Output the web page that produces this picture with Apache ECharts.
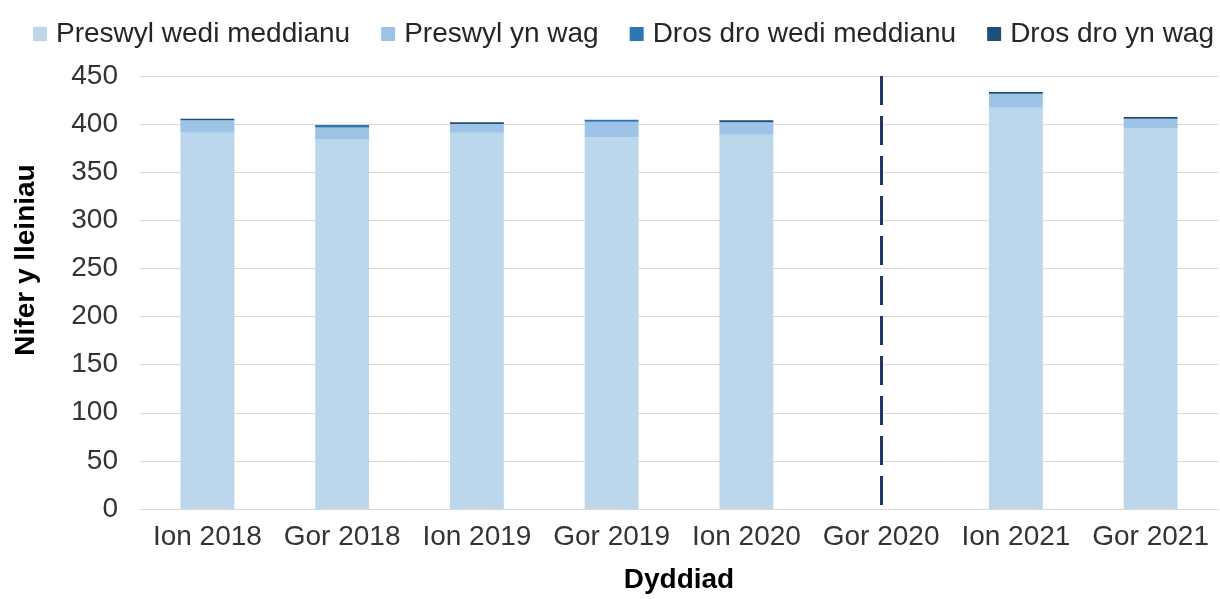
<!DOCTYPE html>
<html>
<head>
<meta charset="utf-8">
<script src="https://cdn.jsdelivr.net/npm/echarts@6/dist/echarts.min.js"></script>
<style>
  html, body { margin: 0; padding: 0; background: #fff; }
  #chart { width: 1220px; height: 599px; }
</style>
</head>
<body>
<div id="chart"></div>
<script>
// dyddiadau (categori)
var categories = ["Ion 2018", "Gor 2018", "Ion 2019", "Gor 2019", "Ion 2020", "Gor 2020", "Ion 2021", "Gor 2021"];
// gwerthoedd wedi'u darllen o'r siart
var preswylWedi = [391, 384, 391, 386, 389, null, 417, 396];
var preswylWag = [13, 12.5, 9, 16.5, 13, null, 14.5, 9.5];
var drosDroWedi = [0, 2.5, 0, 2, 0, null, 0, 0];
var drosDroWag = [1.7, 0, 2, 0, 2, null, 2, 2];
var seriesNames = ["Preswyl wedi meddianu", "Preswyl yn wag", "Dros dro wedi meddianu", "Dros dro yn wag"];
var yTicks = { min: 0, max: 450, interval: 50 };
var breakAt = "Gor 2020";

var colors = ["#bcd7ec", "#9dc3e6", "#2e75b6", "#1f4e79"];
var font = "Liberation Sans, Arial, sans-serif";

var chart = echarts.init(document.getElementById("chart"));

var seriesData = [preswylWedi, preswylWag, drosDroWedi, drosDroWag];
var series = seriesData.map(function (d, i) {
  var s = {
    name: seriesNames[i],
    type: "bar",
    stack: "total",
    data: d,
    barWidth: "40%",
    itemStyle: { color: colors[i] },
    emphasis: { disabled: true },
  };
  if (i === 0) {
    // llinell doriad rhwng y cyfnodau
    s.markLine = {
      silent: true,
      symbol: "none",
      label: { show: false },
      lineStyle: { color: "#1f3864", width: 3, type: [29, 11] },
      data: [[{ coord: [breakAt, yTicks.max] }, { coord: [breakAt, yTicks.min] }]],
    };
  }
  return s;
});

chart.setOption({
  animation: false,
  textStyle: { fontFamily: font },
  legend: {
    top: 15,
    left: 28,
    itemWidth: 14,
    itemHeight: 14,
    itemGap: 31,
    icon: "rect",
    textStyle: { fontSize: 28, color: "#262626", fontFamily: font, padding: [0, 0, 0, 4] },
    data: seriesNames,
  },
  grid: { left: 140, right: 2, top: 76, bottom: 88, containLabel: false },
  xAxis: {
    type: "category",
    data: categories,
    name: "Dyddiad",
    nameLocation: "middle",
    nameGap: 57,
    nameTextStyle: { fontSize: 28, fontWeight: "bold", color: "#000", fontFamily: font },
    axisLine: { lineStyle: { color: "#d9d9d9", width: 1 } },
    axisTick: { show: false },
    axisLabel: { fontSize: 28, color: "#333", margin: 14, fontFamily: font, interval: 0 },
  },
  yAxis: {
    type: "value",
    min: yTicks.min,
    max: yTicks.max,
    interval: yTicks.interval,
    axisLine: { show: false },
    axisTick: { show: false },
    axisLabel: { fontSize: 28, color: "#333", margin: 22, fontFamily: font },
    splitLine: { lineStyle: { color: "#d9d9d9", width: 1 } },
  },
  graphic: [
    {
      type: "text",
      x: 26,
      y: 260,
      rotation: Math.PI / 2,
      style: {
        text: "Nifer y lleiniau",
        fontSize: 28,
        fontWeight: "bold",
        fontFamily: font,
        fill: "#000",
        align: "center",
        verticalAlign: "middle",
      },
    },
  ],
  series: series,
});
</script>
</body>
</html>
